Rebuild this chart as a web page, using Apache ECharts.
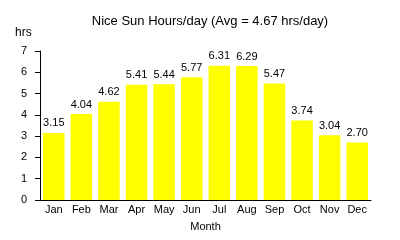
<!DOCTYPE html>
<html>
<head>
<meta charset="utf-8">
<script src="https://cdn.jsdelivr.net/npm/echarts@6/dist/echarts.min.js"></script>
<style>html,body{margin:0;padding:0;background:#fff}#c{width:400px;height:240px}</style>
</head>
<body>
<div id="c"></div>
<script>
const months = ['Jan','Feb','Mar','Apr','May','Jun','Jul','Aug','Sep','Oct','Nov','Dec'];
const sunHours = [3.15, 4.04, 4.62, 5.41, 5.44, 5.77, 6.31, 6.29, 5.47, 3.74, 3.04, 2.70];
const yTicks = [0, 1, 2, 3, 4, 5, 6, 7];

const FONT = '"Liberation Sans", Arial, Helvetica, sans-serif';
const chart = echarts.init(document.getElementById('c'), null, {renderer: 'canvas'});
chart.setOption({
  animation: false,
  backgroundColor: '#fff',
  title: [
    {text: 'Nice Sun Hours/day (Avg = 4.67 hrs/day)', left: 210, top: 15, textAlign: 'center', padding: 0,
     textStyle: {fontFamily: FONT, fontSize: 13, fontWeight: 'normal', color: '#000'}},
    {text: 'hrs', left: 15, top: 27, padding: 0,
     textStyle: {fontFamily: FONT, fontSize: 12, fontWeight: 'normal', color: '#000'}}
  ],
  grid: {left: 40, right: 29, top: 51, bottom: 40, containLabel: false},
  xAxis: {
    type: 'category', data: months,
    name: 'Month', nameLocation: 'middle', nameGap: 21,
    nameTextStyle: {fontFamily: FONT, fontSize: 11, color: '#000'},
    axisLine: {lineStyle: {color: '#000', width: 1}},
    axisTick: {show: false},
    axisLabel: {fontFamily: FONT, fontSize: 11, color: '#000', margin: 4, interval: 0}
  },
  yAxis: {
    type: 'value', min: yTicks[0], max: yTicks[yTicks.length-1], interval: 1,
    splitLine: {show: false},
    axisLine: {show: true, lineStyle: {color: '#000', width: 1}},
    axisTick: {show: true, length: 5, lineStyle: {color: '#000'}},
    axisLabel: {fontFamily: FONT, fontSize: 11, color: '#000', margin: 13}
  },
  series: [{
    type: 'bar', data: sunHours, barCategoryGap: '22%',
    itemStyle: {color: '#ffff00'},
    label: {show: true, position: 'top', distance: 4, fontFamily: FONT, fontSize: 11, color: '#000',
      formatter: p => p.value.toFixed(2)}
  }]
});
</script>
</body>
</html>
